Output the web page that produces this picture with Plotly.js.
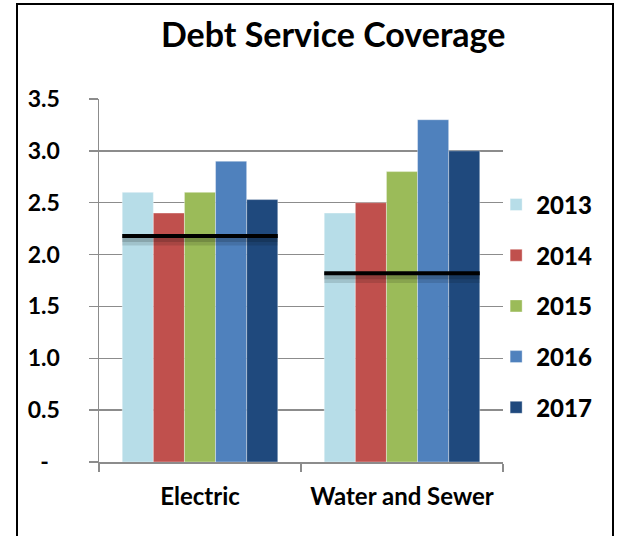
<!DOCTYPE html>
<html>
<head>
<meta charset="utf-8">
<script src="https://cdn.plot.ly/plotly-3.0.1.min.js"></script>
<style>
html,body{margin:0;padding:0;overflow:hidden;background:#fff;}
#wrap{position:relative;width:617px;height:536px;}
#chart{position:absolute;left:0;top:0;width:617px;height:536px;}
#frame{position:absolute;left:16px;top:3px;width:594px;height:560px;border:2px solid #000;pointer-events:none;}
</style>
</head>
<body>
<div id="wrap"><div id="chart"></div><div id="frame"></div></div>
<script>
const categories = ["Electric", "Water and Sewer"];
const years = ["2013", "2014", "2015", "2016", "2017"];
const values2013 = [2.60, 2.40];
const values2014 = [2.40, 2.50];
const values2015 = [2.60, 2.80];
const values2016 = [2.90, 3.30];
const values2017 = [2.53, 3.00];
const targetLevels = [2.18, 1.82];
const yTickVals = [0, 0.5, 1.0, 1.5, 2.0, 2.5, 3.0, 3.5];
const yTickText = ["-\u00a0\u00a0", "0.5", "1.0", "1.5", "2.0", "2.5", "3.0", "3.5"];

const seriesValues = [values2013, values2014, values2015, values2016, values2017];
const colors = ["#B7DDE8", "#C0504D", "#9BBB59", "#4F81BD", "#1F497D"];
const FONT = "Lato, 'Open Sans', sans-serif";
const bargap = 0.23;
const half = (1 - bargap) / 2;

const traces = years.map((yr, i) => ({
  type: "bar",
  name: yr,
  x: categories,
  y: seriesValues[i],
  legendgroup: yr,
  marker: {color: colors[i], line: {color: "rgba(255,255,255,0.45)", width: 0.8}},
  hoverinfo: "x+y+name"
}));

const shapes = [];
targetLevels.forEach((v, i) => {
  shapes.push({type: "line", xref: "x", yref: "y", x0: i - half, x1: i + half,
    y0: v - 0.04, y1: v - 0.04, line: {color: "rgba(0,0,0,0.12)", width: 11}, layer: "above"});
  shapes.push({type: "line", xref: "x", yref: "y", x0: i - half, x1: i + half,
    y0: v - 0.03, y1: v - 0.03, line: {color: "rgba(0,0,0,0.15)", width: 6}, layer: "above"});
  shapes.push({type: "line", xref: "x", yref: "y", x0: i - half, x1: i + half,
    y0: v, y1: v, line: {color: "#000", width: 4}, layer: "above"});
});

const layout = {
  width: 617, height: 536,
  margin: {l: 99, r: 114, t: 99, b: 74, pad: 0},
  paper_bgcolor: "#fff", plot_bgcolor: "#fff",
  font: {family: FONT, color: "#000", size: 20},
  title: {text: "<b>Debt Service Coverage</b>", x: 0.54, xanchor: "center", y: 0.935, yanchor: "middle",
    font: {family: FONT, size: 34, color: "#000"}},
  barmode: "group", bargap: bargap, bargroupgap: 0,
  xaxis: {
    type: "category", tickson: "boundaries", ticks: "outside", ticklen: 8, tickwidth: 1.5, tickcolor: "#8c8c8c",
    showline: true, linecolor: "#8c8c8c", linewidth: 1.5, showgrid: false,
    tickfont: {family: FONT, size: 24, color: "#000", weight: "bold"},
    ticklabelstandoff: 13, fixedrange: true
  },
  yaxis: {
    range: [0, 3.5], tickvals: yTickVals, ticktext: yTickText,
    ticks: "outside", ticklen: 9, tickwidth: 1.5, tickcolor: "#8c8c8c",
    showline: true, linecolor: "#8c8c8c", linewidth: 1.5,
    showgrid: true, gridcolor: "#8c8c8c", gridwidth: 1.5, zeroline: false,
    tickfont: {family: FONT, size: 23, color: "#000", weight: "bold"},
    ticklabelstandoff: 24, fixedrange: true
  },
  legend: {x: 0.983, xanchor: "left", y: 0.43, yanchor: "middle", orientation: "v",
    font: {family: FONT, size: 24, color: "#000", weight: 900},
    tracegroupgap: 16.5, itemwidth: 30, bgcolor: "rgba(0,0,0,0)", traceorder: "grouped"},
  shapes: shapes,
  showlegend: true
};

Plotly.newPlot("chart", traces, layout, {displayModeBar: false, staticPlot: true});
</script>
</body>
</html>
